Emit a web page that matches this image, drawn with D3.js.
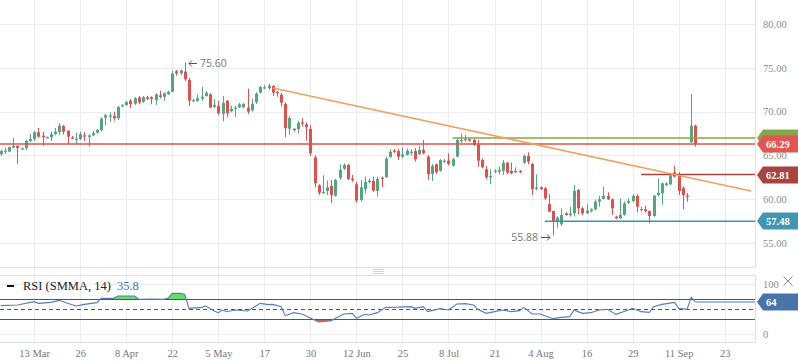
<!DOCTYPE html>
<html>
<head>
<meta charset="utf-8">
<script src="https://cdn.jsdelivr.net/npm/d3@7"></script>
<style>
  html, body { margin: 0; padding: 0; background: #fff; }
  svg { display: block; }
</style>
</head>
<body>
<div id="chart"></div>
<script>
// ////////////////////////////////////////////////////////////////////////////
// DATA (daily candles)
// ////////////////////////////////////////////////////////////////////////////
const opens = [65.13, 65.43, 65.43, 65.88, 66.08, 65.70, 65.81, 66.64, 66.87, 67.64,
  67.26, 66.98, 67.07, 67.44, 67.64, 68.36, 67.79, 67.02, 66.84, 66.87,
  67.29, 67.10, 67.29, 67.59, 67.87, 69.31, 69.44, 69.50, 69.24, 70.61,
  70.76, 71.25, 70.90, 71.61, 71.13, 71.63, 71.67, 71.32, 71.86, 71.70,
  71.98, 72.27, 74.60, 74.37, 74.56, 73.61, 71.21, 71.21, 71.47, 71.78,
  71.98, 70.56, 70.64, 69.73, 71.24, 70.07, 70.33, 70.49, 70.49, 70.45,
  70.15, 71.06, 72.16, 72.69, 72.66, 72.92, 72.24, 71.93, 70.87, 68.05,
  68.05, 68.01, 68.78, 68.55, 68.01, 64.78, 61.59, 60.71, 60.94, 61.51,
  60.40, 62.45, 63.48, 63.90, 62.34, 61.70, 59.91, 61.13, 61.96, 62.08,
  60.94, 62.46, 62.50, 64.82, 65.58, 65.50, 64.85, 65.05, 65.27, 65.50,
  65.13, 65.62, 64.85, 62.88, 63.98, 63.25, 64.33, 64.40, 63.83, 64.85,
  66.76, 66.87, 66.84, 66.76, 66.19, 64.48, 63.41, 62.57, 63.14, 63.14,
  63.25, 64.17, 63.22, 63.07, 63.22, 64.17, 64.93, 64.02, 61.17, 61.36,
  61.25, 59.45, 58.65, 57.43, 57.14, 58.39, 58.20, 58.39, 61.05, 58.96,
  58.39, 58.65, 58.85, 59.72, 60.03, 60.37, 59.99, 58.00, 57.82, 58.20,
  59.60, 59.80, 60.37, 58.77, 58.85, 58.65, 58.08, 60.48, 60.67, 61.62,
  61.70, 63.07, 62.84, 61.25, 60.40, 66.50, 68.39];
const highs = [65.65, 65.90, 66.00, 66.99, 66.15, 65.90, 66.76, 67.44, 67.79, 68.13,
  67.71, 67.15, 67.71, 68.13, 68.67, 68.47, 67.90, 67.22, 67.59, 67.71,
  67.64, 67.40, 67.79, 68.01, 69.38, 69.73, 69.92, 69.99, 70.64, 70.85,
  71.21, 71.44, 71.67, 71.78, 71.78, 71.81, 71.75, 72.09, 72.39, 72.20,
  72.39, 74.67, 74.75, 74.78, 75.60, 73.87, 71.47, 71.98, 72.81, 72.35,
  72.09, 71.44, 71.21, 71.78, 71.32, 70.67, 70.67, 70.99, 70.99, 72.62,
  71.47, 72.20, 72.93, 73.04, 73.15, 73.04, 72.39, 72.12, 71.06, 69.50,
  68.05, 68.96, 69.24, 68.78, 68.44, 65.02, 61.71, 62.73, 62.12, 62.19,
  62.31, 63.98, 64.10, 64.02, 62.77, 62.00, 62.19, 62.57, 62.34, 62.57,
  62.57, 62.57, 64.85, 65.70, 65.73, 65.76, 65.92, 65.79, 65.70, 65.81,
  66.07, 66.76, 65.05, 64.02, 64.10, 64.56, 64.59, 65.24, 64.74, 66.95,
  67.50, 67.33, 66.93, 66.95, 66.76, 64.67, 63.79, 63.41, 63.41, 63.71,
  64.48, 64.28, 64.17, 63.64, 63.33, 65.12, 65.35, 64.17, 62.84, 61.48,
  61.40, 60.56, 58.70, 58.05, 58.96, 58.50, 59.14, 61.62, 61.17, 59.14,
  59.42, 58.96, 59.95, 60.38, 61.43, 60.79, 60.10, 58.12, 60.10, 59.72,
  60.10, 60.56, 60.56, 59.14, 59.26, 58.73, 60.48, 62.39, 61.90, 61.93,
  62.96, 63.82, 63.07, 61.48, 60.67, 72.01, 68.50];
const lows = [64.95, 65.16, 65.35, 65.85, 64.05, 65.60, 65.62, 66.50, 66.64, 67.02,
  66.11, 66.95, 66.64, 67.30, 67.33, 67.41, 66.27, 66.87, 66.27, 66.76,
  66.65, 66.00, 67.21, 67.50, 67.79, 68.47, 68.81, 68.96, 69.04, 70.50,
  70.64, 70.41, 70.76, 70.83, 71.00, 71.32, 70.83, 70.76, 71.52, 71.24,
  71.90, 72.20, 74.10, 74.18, 73.47, 70.67, 71.13, 71.13, 71.24, 71.70,
  70.38, 70.38, 69.61, 68.89, 69.35, 69.92, 69.42, 70.41, 70.41, 69.73,
  69.99, 70.87, 72.09, 72.58, 72.47, 71.78, 71.70, 70.56, 67.07, 67.36,
  67.71, 67.52, 68.30, 66.68, 64.93, 61.36, 60.48, 60.62, 60.48, 59.53,
  60.29, 62.19, 63.33, 62.19, 61.99, 59.60, 59.72, 60.67, 61.81, 60.86,
  60.29, 61.36, 62.46, 64.74, 65.27, 64.48, 64.67, 64.99, 64.97, 64.28,
  65.05, 65.13, 62.19, 62.08, 62.88, 63.14, 64.13, 63.85, 63.71, 64.79,
  66.45, 66.56, 66.57, 66.07, 63.71, 63.53, 62.27, 61.73, 62.96, 62.84,
  62.77, 62.88, 62.84, 62.96, 62.99, 64.02, 63.98, 60.48, 61.00, 61.05,
  59.91, 58.50, 55.88, 56.75, 56.94, 58.10, 58.00, 58.05, 58.28, 58.16,
  58.31, 58.50, 58.73, 59.14, 60.00, 59.91, 58.20, 57.74, 57.75, 58.12,
  59.45, 59.65, 58.50, 58.58, 58.50, 57.25, 58.00, 60.30, 59.38, 61.52,
  61.62, 62.50, 60.48, 58.88, 59.72, 66.45, 66.00];
const closes = [65.50, 65.55, 65.96, 66.11, 65.85, 65.82, 66.64, 66.87, 67.64, 67.14,
  67.07, 67.09, 67.44, 67.71, 68.39, 67.71, 67.14, 66.91, 66.91, 67.44,
  67.18, 67.29, 67.56, 67.90, 69.19, 69.58, 69.56, 69.24, 70.53, 70.72,
  71.10, 70.87, 71.52, 71.04, 71.63, 71.44, 71.47, 71.98, 71.67, 72.09,
  72.27, 74.33, 74.37, 74.71, 73.69, 71.24, 71.29, 71.52, 71.70, 72.16,
  70.45, 70.76, 69.81, 70.98, 69.81, 70.30, 70.45, 70.84, 70.87, 69.99,
  70.90, 72.05, 72.81, 72.77, 72.96, 72.16, 72.12, 71.02, 68.10, 69.27,
  67.90, 68.73, 68.67, 68.21, 65.24, 61.82, 60.74, 60.82, 61.36, 60.48,
  62.19, 63.33, 63.90, 62.31, 62.19, 59.83, 61.36, 61.96, 62.11, 60.97,
  62.31, 62.31, 64.62, 65.42, 65.42, 64.85, 65.12, 65.54, 65.42, 64.56,
  65.62, 65.24, 62.84, 63.79, 63.07, 64.48, 64.40, 64.02, 64.56, 66.76,
  66.76, 66.87, 66.68, 66.19, 64.40, 63.64, 62.50, 62.65, 63.25, 63.33,
  64.17, 63.03, 62.96, 63.25, 63.07, 64.93, 64.28, 61.13, 61.32, 61.17,
  60.10, 58.58, 57.43, 57.89, 58.20, 58.20, 58.35, 60.94, 58.96, 58.39,
  58.69, 58.84, 59.72, 59.99, 60.40, 59.99, 58.96, 57.82, 58.20, 59.53,
  59.80, 60.37, 59.15, 58.88, 58.65, 58.08, 60.40, 60.74, 61.81, 61.81,
  62.69, 62.57, 60.94, 60.48, 60.29, 68.39, 66.29];

// RSI (SMMA, 14) readings: candle index and value
const rsiIdx = [0, 4, 8, 9, 12, 14, 16, 18, 20, 23, 24, 27, 28, 32, 33, 36, 39, 40, 41, 43,
  44, 45, 48, 49, 51, 52, 53, 54, 56, 59, 60, 62, 64, 65, 67, 68, 70, 72, 75, 76,
  79, 80, 82, 84, 85, 87, 88, 90, 92, 95, 98, 99, 101, 102, 103, 105, 107, 109, 111, 113,
  114, 116, 118, 120, 122, 124, 125, 127, 129, 130, 132, 134, 136, 137, 139, 141, 143, 145, 147, 150,
  151, 153, 155, 156, 158, 161, 162, 164, 165, 166];
const rsiVal = [56.7, 58, 64.7, 61.3, 63.3, 67.3, 61.3, 56, 59.3, 62.7, 71.3, 71.3, 76, 76, 69.5, 69.8, 69.6, 72, 81.3, 81.3,
  79, 51.3, 53.3, 56, 46, 42.7, 48, 44.5, 48, 46, 51.3, 61.3, 58.7, 59.3, 54.7, 36.7, 42.7, 40, 28, 24,
  26.7, 31.3, 40, 41.3, 31.3, 39.3, 38, 42.7, 53.3, 53.7, 54.7, 51.3, 54.7, 44.7, 46.7, 50.7, 48, 60, 60.7, 58,
  49.3, 41.3, 44.7, 48, 44.7, 46.7, 53.3, 40, 40, 36.7, 30.7, 33.3, 34.7, 48, 41.3, 42.7, 48, 49.3, 39.3, 48,
  51.3, 44.7, 43.3, 54.7, 59.3, 63.3, 51.3, 49.3, 73.3, 64];

// axis ticks
const priceTicks = [55, 60, 65, 70, 75, 80];
const dateTickIdx = [8, 19, 30, 41, 52, 63, 74, 85, 96, 107, 118, 129, 140, 151, 162, 173];
const dateTickLabels = ['13 Mar', '26', '8 Apr', '22', '5 May', '17', '30', '12 Jun',
  '25', '8 Jul', '21', '4 Aug', '16', '29', '11 Sep', '23'];

// drawings: horizontal levels (price, first candle) and trend line
const levelPrices = [67.0, 66.29, 62.81, 57.48];
const levelStartIdx = [108, -1, 153, 130];
const levelLabels = ['', '66.29', '62.81', '57.48'];
const trendIdx = [65, 179.3];
const trendPrice = [72.69, 60.94];
const rsiLevels = [70, 50, 30];
const rsiLast = 64;
const rsiLegend = 35.8;

// ////////////////////////////////////////////////////////////////////////////
// SET UP
// ////////////////////////////////////////////////////////////////////////////
const width = 798;
const height = 363;
const plotRight = 755;
const mainBottom = 267;
const rsiTop = 275;
const rsiBottom = 342;

const upColor = '#53a680';
const downColor = '#e0514d';
const flatColor = '#8a8a8a';
const gridColor = '#e9ecf0';
const borderColor = '#dde1e6';
const axisFont = '"Liberation Serif", "Times New Roman", serif';

const candles = opens.map((o, i) => ({ i, o, h: highs[i], l: lows[i], c: closes[i] }));
const rsi = rsiIdx.map((i, k) => ({ i, v: rsiVal[k] }));

const x = d3.scaleLinear().domain([-0.167, 180.24]).range([0, plotRight]);
const y = d3.scaleLinear().domain([55, 80]).range([243, 24]);
const yRsi = d3.scaleLinear().domain([0, 100]).range([334, 284]);

const svg = d3.select('#chart').append('svg')
  .attr('width', width)
  .attr('height', height);

svg.append('defs').append('clipPath').attr('id', 'main-clip')
  .append('rect').attr('x', 0).attr('y', 0).attr('width', plotRight).attr('height', mainBottom);

// ////////////////////////////////////////////////////////////////////////////
// GRID + BORDERS
// ////////////////////////////////////////////////////////////////////////////
svg.append('g').selectAll('line')
  .data(priceTicks)
  .join('line')
    .attr('x1', 0).attr('x2', plotRight)
    .attr('y1', d => Math.round(y(d)) + 0.5).attr('y2', d => Math.round(y(d)) + 0.5)
    .attr('stroke', gridColor);

svg.append('g').selectAll('line')
  .data([0, 100])
  .join('line')
    .attr('x1', 0).attr('x2', plotRight)
    .attr('y1', d => Math.round(yRsi(d)) + 0.5).attr('y2', d => Math.round(yRsi(d)) + 0.5)
    .attr('stroke', gridColor);

svg.append('g').selectAll('line')
  .data(dateTickIdx)
  .join('line')
    .attr('x1', d => Math.round(x(d)) + 0.5).attr('x2', d => Math.round(x(d)) + 0.5)
    .attr('y1', 0).attr('y2', rsiBottom)
    .attr('stroke', gridColor);

const borders = svg.append('g').attr('stroke', borderColor).attr('fill', 'none');
borders.append('path').attr('d', `M${plotRight + 0.5},0V${mainBottom + 0.5}H0`);
borders.append('path').attr('d', `M0,${rsiTop + 0.5}H${plotRight + 0.5}V${rsiBottom + 0.5}H0`);

// panel resize handle
svg.append('g').selectAll('line')
  .data([0, 2, 4])
  .join('line')
    .attr('x1', 373).attr('x2', 384)
    .attr('y1', d => 269.5 + d).attr('y2', d => 269.5 + d)
    .attr('stroke', '#cfd3d8');

// ////////////////////////////////////////////////////////////////////////////
// CANDLES
// ////////////////////////////////////////////////////////////////////////////
const candleColor = d => (d.c > d.o ? upColor : d.c < d.o ? downColor : flatColor);
const main = svg.append('g').attr('clip-path', 'url(#main-clip)');

main.append('g').selectAll('rect')
  .data(candles)
  .join('rect')
    .attr('x', d => Math.round(x(d.i)))
    .attr('width', 1)
    .attr('y', d => y(d.h))
    .attr('height', d => y(d.l) - y(d.h))
    .attr('fill', candleColor);

main.append('g').selectAll('rect')
  .data(candles)
  .join('rect')
    .attr('x', d => Math.round(x(d.i)) - 1)
    .attr('width', 3)
    .attr('y', d => y(Math.max(d.o, d.c)))
    .attr('height', d => Math.max(1.2, Math.abs(y(d.o) - y(d.c))))
    .attr('fill', candleColor);

// ////////////////////////////////////////////////////////////////////////////
// DRAWINGS
// ////////////////////////////////////////////////////////////////////////////
const levelColors = ['#82a844', '#e0514d', '#a8443f', '#3b94ae'];

main.append('g').selectAll('line')
  .data(levelPrices)
  .join('line')
    .attr('x1', (d, k) => x(levelStartIdx[k]))
    .attr('x2', plotRight)
    .attr('y1', d => y(d)).attr('y2', d => y(d))
    .attr('stroke', (d, k) => levelColors[k])
    .attr('stroke-width', 1.5);

main.append('line')
  .attr('x1', x(trendIdx[0])).attr('y1', y(trendPrice[0]))
  .attr('x2', x(trendIdx[1])).attr('y2', y(trendPrice[1]))
  .attr('stroke', '#f0a35e')
  .attr('stroke-width', 1.6);

// high / low markers
const hiIdx = highs.indexOf(d3.max(highs));
const loIdx = lows.indexOf(d3.min(lows));
const hx = Math.round(x(hiIdx));
const hy = Math.round(y(highs[hiIdx])) + 0.5;
svg.append('path')
  .attr('d', `M${hx + 12},${hy}H${hx + 4}M${hx + 7},${hy - 3}L${hx + 4},${hy}L${hx + 7},${hy + 3}`)
  .attr('stroke', '#555').attr('fill', 'none');
svg.append('text')
  .attr('x', hx + 15).attr('y', hy)
  .attr('dy', '0.35em')
  .attr('font-family', '"Open Sans", sans-serif')
  .attr('font-size', 10.5)
  .attr('fill', '#777')
  .text(highs[hiIdx].toFixed(2));

const lx = Math.round(x(loIdx));
const ly = Math.round(y(lows[loIdx])) + 2.5;
svg.append('path')
  .attr('d', `M${lx - 12},${ly}H${lx - 3}M${lx - 6},${ly - 3}L${lx - 3},${ly}L${lx - 6},${ly + 3}`)
  .attr('stroke', '#555').attr('fill', 'none');
svg.append('text')
  .attr('x', lx - 15).attr('y', ly)
  .attr('dy', '0.35em')
  .attr('text-anchor', 'end')
  .attr('font-family', '"Open Sans", sans-serif')
  .attr('font-size', 10.5)
  .attr('fill', '#777')
  .text(lows[loIdx].toFixed(2));

// ////////////////////////////////////////////////////////////////////////////
// RSI PANEL
// ////////////////////////////////////////////////////////////////////////////
svg.append('defs').call((defs) => {
  defs.append('clipPath').attr('id', 'ob-clip')
    .append('rect').attr('x', 0).attr('y', rsiTop).attr('width', plotRight).attr('height', yRsi(70) - rsiTop);
  defs.append('clipPath').attr('id', 'os-clip')
    .append('rect').attr('x', 0).attr('y', yRsi(30)).attr('width', plotRight).attr('height', rsiBottom - yRsi(30));
});

const rsiArea = base => d3.area()
  .x(d => x(d.i))
  .y0(yRsi(base))
  .y1(d => yRsi(d.v));

svg.append('path')
  .datum(rsi)
  .attr('clip-path', 'url(#ob-clip)')
  .attr('d', rsiArea(70))
  .attr('fill', '#66dd66');
svg.append('path')
  .datum(rsi)
  .attr('clip-path', 'url(#os-clip)')
  .attr('d', rsiArea(30))
  .attr('fill', '#e05a55');

svg.append('g').selectAll('line')
  .data(rsiLevels)
  .join('line')
    .attr('x1', 0).attr('x2', plotRight)
    .attr('y1', d => Math.round(yRsi(d)) + 0.5).attr('y2', d => Math.round(yRsi(d)) + 0.5)
    .attr('stroke', '#555')
    .attr('stroke-dasharray', d => (d === 50 ? '4,3' : null));

svg.append('path')
  .datum(rsi)
  .attr('d', d3.line().x(d => x(d.i)).y(d => yRsi(d.v)))
  .attr('fill', 'none')
  .attr('stroke', '#4f80bb')
  .attr('stroke-width', 1.1);

svg.append('line')
  .attr('x1', x(rsiIdx[rsiIdx.length - 1])).attr('x2', plotRight)
  .attr('y1', yRsi(rsiLast)).attr('y2', yRsi(rsiLast))
  .attr('stroke', '#4f80bb');

// legend
svg.append('rect').attr('x', 7).attr('y', 285).attr('width', 7).attr('height', 2).attr('fill', '#111');
const legend = svg.append('text')
  .attr('x', 23).attr('y', 290)
  .attr('font-family', axisFont)
  .attr('font-size', 12.5)
  .attr('fill', '#222');
legend.append('tspan').text('RSI (SMMA, 14)');
legend.append('tspan').attr('dx', 6).attr('fill', '#3f70b0').text(rsiLegend);

// close icon
svg.append('path')
  .attr('d', 'M783.5,276.5L792.5,285.5M792.5,276.5L783.5,285.5')
  .attr('stroke', '#8a8a8a');

// ////////////////////////////////////////////////////////////////////////////
// AXES
// ////////////////////////////////////////////////////////////////////////////
const priceAxis = d3.axisRight(y)
  .tickValues(priceTicks)
  .tickFormat(d3.format('.2f'))
  .tickSize(0)
  .tickPadding(8);
svg.append('g')
  .attr('transform', `translate(${plotRight},0)`)
  .call(priceAxis)
  .call(g => g.select('.domain').remove())
  .call(g => g.selectAll('text')
    .attr('font-family', axisFont).attr('font-size', 10.5).attr('fill', '#8c8c8c'));

const rsiAxis = d3.axisRight(yRsi)
  .tickValues([0, 100])
  .tickSize(0)
  .tickPadding(8);
svg.append('g')
  .attr('transform', `translate(${plotRight},0)`)
  .call(rsiAxis)
  .call(g => g.select('.domain').remove())
  .call(g => g.selectAll('text')
    .attr('font-family', axisFont).attr('font-size', 10.5).attr('fill', '#8c8c8c'));

const dateAxis = d3.axisBottom(x)
  .tickValues(dateTickIdx)
  .tickFormat((d, k) => dateTickLabels[k])
  .tickSize(0)
  .tickPadding(8);
svg.append('g')
  .attr('transform', `translate(0,${rsiBottom})`)
  .call(dateAxis)
  .call(g => g.select('.domain').remove())
  .call(g => g.selectAll('text')
    .attr('font-family', axisFont).attr('font-size', 10.5).attr('fill', '#777'));

// price tags on the right
function tag(value, color, label) {
  const cy = Math.round(value);
  const g = svg.append('g');
  g.append('path')
    .attr('d', `M757,${cy}L763,${cy - 8.5}H798V${cy + 8.5}H763Z`)
    .attr('fill', color);
  if (label) {
    g.append('text')
      .attr('x', 766).attr('y', cy)
      .attr('dy', '0.36em')
      .attr('font-family', axisFont)
      .attr('font-weight', 'bold')
      .attr('font-size', 10.5)
      .attr('fill', '#fff')
      .text(label);
  }
}
const tagColors = ['#86a84a', '#e05652', '#a8443f', '#3f97b0'];
levelPrices.forEach((p, k) => tag(y(p), tagColors[k], levelLabels[k]));
tag(yRsi(rsiLast), '#4a73a8', String(rsiLast));
</script>
</body>
</html>
